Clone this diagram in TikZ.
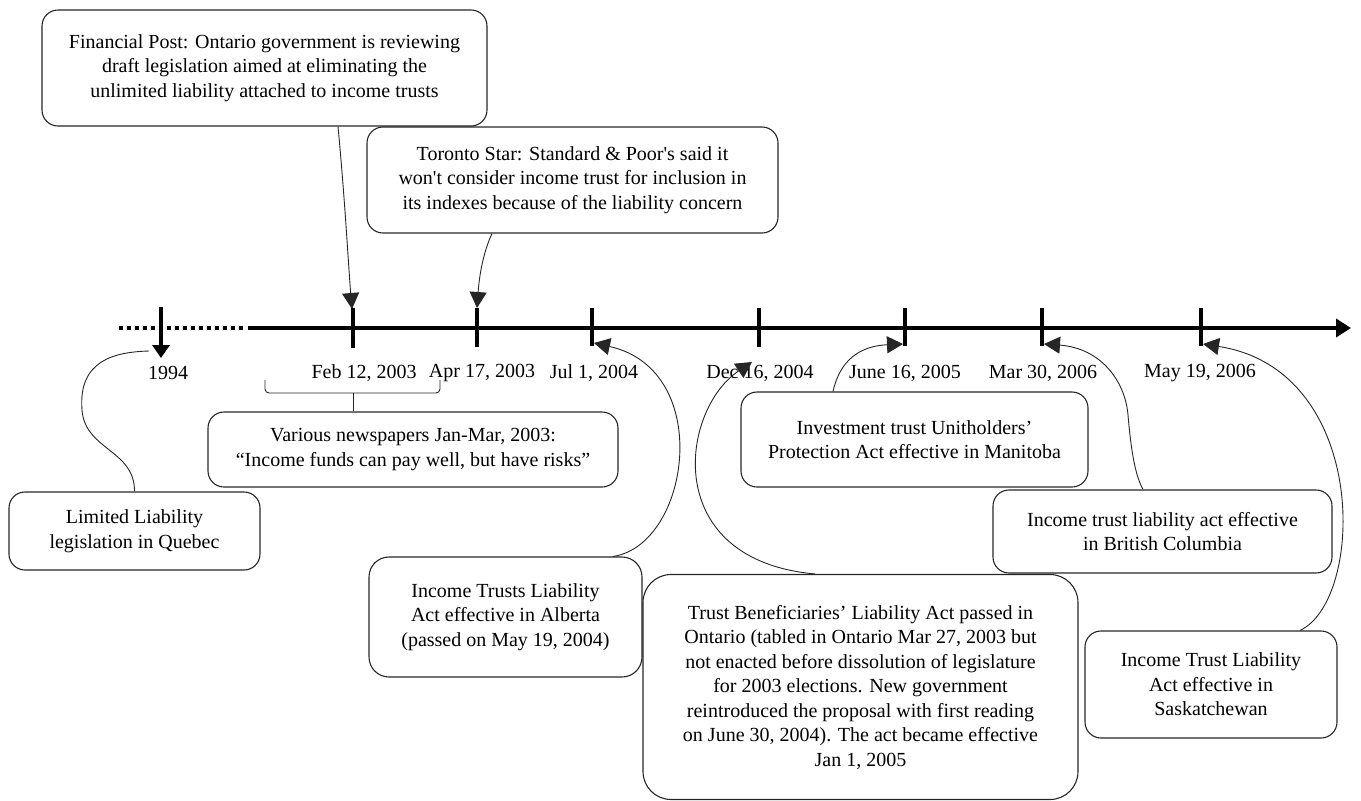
\documentclass[tikz,border=0pt]{standalone}
\usepackage{fontspec}
\setmainfont{Liberation Serif}
\usetikzlibrary{arrows.meta}
\begin{document}
\begin{tikzpicture}[x=1pt,y=-1pt,
  box/.style={draw=black!85, line width=1.1pt, rounded corners=16pt, align=center,
    font=\fontsize{20}{24.5}\selectfont, inner sep=0pt},
  lbl/.style={font=\fontsize{20}{24}\selectfont, inner sep=0pt},
  axisline/.style={line width=4pt},
  tickline/.style={line width=4pt},
  conn/.style={draw=black!85, line width=0.9pt},
  tip/.style={-{Triangle[length=16pt,width=17pt]}}
]
\useasboundingbox (0,0) rectangle (1361,801);

% timeline
\coordinate (dotA) at (119,328);
\coordinate (dotB) at (244,328);
\coordinate (axA) at (248,328);
\coordinate (axB) at (1351,328);
\draw[axisline, dash pattern=on 4pt off 4pt] (dotA) -- (dotB);
\draw[axisline, -{Triangle[length=15pt,width=18pt]}] (axA) -- (axB);

% ticks
\draw[tickline, -{Triangle[length=13pt,width=17pt]}] (161,307) -- (161,358);
\draw[tickline] (353,308) -- (353,348);
\draw[tickline] (477,308) -- (477,347);
\draw[tickline] (592,308) -- (592,346);
\draw[tickline] (759,308) -- (759,347);
\draw[tickline] (905,308) -- (905,346);
\draw[tickline] (1042,308) -- (1042,346);
\draw[tickline] (1201,308) -- (1201,346);

% tick end coordinates
\coordinate (t1994) at (149,351);
\coordinate (tFeb) at (352,309);
\coordinate (tApr) at (477,308);
\coordinate (tJul) at (594,343);
\coordinate (tDec) at (752,362);
\coordinate (tJun) at (903,344);
\coordinate (tMar) at (1044,344);
\coordinate (tMay) at (1203,344);

% date labels
\node[lbl] (l1994) at (168,373) {1994};
\node[lbl] (lFeb) at (364,373) {Feb 12, 2003};
\node[lbl] (lApr) at (482,373) {Apr 17, 2003};
\node[lbl] (lJul) at (594,373) {Jul 1, 2004};
\node[lbl] (lDec) at (760,373) {Dec 16, 2004};
\node[lbl] (lJun) at (905,373) {June 16, 2005};
\node[lbl] (lMar) at (1043,373) {Mar 30, 2006};
\node[lbl] (lMay) at (1200,373) {May 19, 2006};

% boxes
\node[box, minimum width=445pt, minimum height=116pt] (fp) at (264.5,68)
  {Financial Post: Ontario government is reviewing\\draft legislation aimed at eliminating the\\unlimited liability attached to income trusts};
\node[box, minimum width=411pt, minimum height=106pt] (ts) at (572.5,180)
  {Toronto Star: Standard \& Poor\textquotesingle s said it\\won\textquotesingle t consider income trust for inclusion in\\its indexes because of the liability concern};
\node[box, minimum width=410pt, minimum height=75pt] (vn) at (413,449.5)
  {Various newspapers Jan-Mar, 2003:\\“Income funds can pay well, but have risks”};
\node[box, minimum width=251pt, minimum height=78pt] (ll) at (134.5,531)
  {Limited Liability\\legislation in Quebec};
\node[box, minimum width=347pt, minimum height=95pt] (mb) at (914.5,439.5)
  {Investment trust Unitholders’\\Protection Act effective in Manitoba};
\node[box, minimum width=339pt, minimum height=83pt] (bc) at (1162.5,531.5)
  {Income trust liability act effective\\in British Columbia};
\node[box, minimum width=273pt, minimum height=120pt, rounded corners=20pt] (al) at (505.5,617)
  {Income Trusts Liability\\Act effective in Alberta\\(passed on May 19, 2004)};
\node[box, minimum width=435pt, minimum height=225pt, rounded corners=28pt] (tb) at (860.5,687)
  {Trust Beneficiaries’ Liability Act passed in\\Ontario (tabled in Ontario Mar 27, 2003 but\\not enacted before dissolution of legislature\\for 2003 elections. New government\\reintroduced the proposal with first reading\\on June 30, 2004). The act became effective\\Jan 1, 2005};
\node[box, minimum width=252pt, minimum height=107pt] (sk) at (1211,684.5)
  {Income Trust Liability\\Act effective in\\Saskatchewan};

% brace
\coordinate (brL) at (265,380);
\coordinate (brR) at (440,380);
\coordinate (brC) at (353,393);
\draw[conn, rounded corners=4pt] (brL) |- (brC) -| (brR);
\draw[conn] (brC) -- (brC |- vn.north);

% connectors
\draw[conn] (ll.north) .. controls (135,450) and (85,450) .. (82,410)
  .. controls (78,360) and (115,352) .. (t1994);
\draw[conn, tip] ([xshift=73.5pt]fp.south) .. controls (345,200) and (348,260) .. (tFeb);
\draw[conn, tip] ([xshift=-80.5pt]ts.south) .. controls (482,255) and (479,280) .. (tApr);
\draw[conn, tip] ([xshift=107.5pt]al.north) .. controls (690,545) and (715,370) .. (tJul);
\draw[conn, tip] ([xshift=-45.5pt]tb.north) .. controls (660,560) and (680,410) .. (tDec);
\draw[conn, tip] ([xshift=-81.5pt]mb.north) .. controls (840,360) and (860,346) .. (tJun);
\draw[conn, tip] ([xshift=-19.5pt]bc.north) .. controls (1135,475) and (1131,450) .. (1128,415)
  .. controls (1125,380) and (1100,348) .. (tMar);
\draw[conn, tip] ([xshift=89pt]sk.north) .. controls (1365,600) and (1370,370) .. (tMay);
\end{tikzpicture}
\end{document}
